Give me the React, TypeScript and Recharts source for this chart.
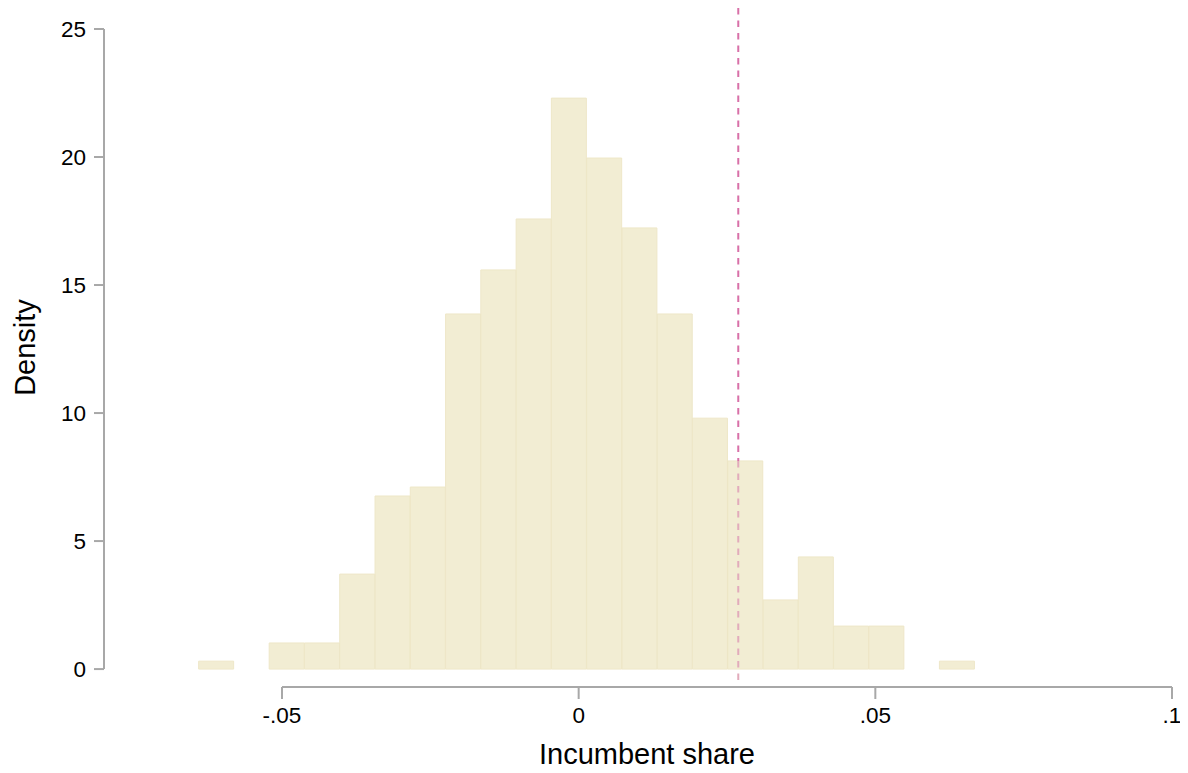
import { BarChart, Bar, XAxis, YAxis, ReferenceLine } from 'recharts';

// histogram bin centres (bin width ~ .00595)
const binCenters = [
  -0.06108, -0.05513, -0.04919, -0.04324, -0.0373, -0.03135, -0.02541, -0.01946,
  -0.01352, -0.00757, -0.00163, 0.00432, 0.01026, 0.01621, 0.02215, 0.0281,
  0.03404, 0.03999, 0.04593, 0.05188, 0.05782, 0.06377,
];
const densities = [
  0.31, 0, 1.02, 1.02, 3.71, 6.76, 7.11, 13.87,
  15.59, 17.58, 22.3, 19.96, 17.23, 13.87, 9.8, 8.13,
  2.7, 4.38, 1.68, 1.68, 0, 0.31,
];
const xTicks = [-0.05, 0, 0.05, 0.1];
const xTickLabels = ['-.05', '0', '.05', '.1'];
const yTicks = [0, 5, 10, 15, 20, 25];
const cutoff = 0.0269;

const X_DOMAIN: [number, number] = [-0.08, 0.1];
const Y_DOMAIN: [number, number] = [-0.7, 25.82];

const FONT = '"Liberation Sans", Arial, Helvetica, sans-serif';
const AXIS = '#a8a8a8';

const data = binCenters.map((x, i) => ({ x, density: densities[i] }));

// the cutoff line shows through the (translucent) bars: find the bar it crosses
const crossed = binCenters.reduce((best, c, i) =>
  Math.abs(c - cutoff) < Math.abs(binCenters[best] - cutoff) ? i : best, 0);
const barTop = densities[crossed];

export default function App() {
  return (
    <div style={{ fontFamily: FONT }}>
      <BarChart
        width={1180}
        height={765}
        data={data}
        margin={{ top: 0, right: 16, bottom: 0, left: 0 }}
        barCategoryGap={0}
        barGap={0}
      >
        <XAxis
          dataKey="x"
          type="number"
          domain={X_DOMAIN}
          ticks={xTicks}
          interval={0}
          allowDataOverflow
          tickFormatter={(v) => xTickLabels[xTicks.indexOf(v)] ?? String(v)}
          axisLine={false}
          tickLine={{ stroke: AXIS, strokeWidth: 2 }}
          tickSize={12}
          tickMargin={8}
          height={86}
          tick={{ fill: '#000', fontSize: 22.5, fontFamily: FONT }}
          label={{ value: 'Incumbent share', position: 'insideBottom', offset: 9, dx: 9, fill: '#000', fontSize: 29, fontFamily: FONT }}
        />
        <YAxis
          type="number"
          domain={Y_DOMAIN}
          ticks={yTicks}
          interval={0}
          allowDataOverflow
          axisLine={false}
          tickLine={{ stroke: AXIS, strokeWidth: 2 }}
          tickSize={10}
          tickMargin={8}
          width={96}
          tick={{ fill: '#000', fontSize: 22.5, fontFamily: FONT }}
          label={{ value: 'Density', angle: -90, position: 'center', dx: -31, fill: '#000', fontSize: 29, fontFamily: FONT }}
        />
        <Bar
          dataKey="density"
          fill="#e6dca8"
          fillOpacity={0.5}
          stroke="#eee7c8"
          strokeWidth={1}
          isAnimationActive={false}
        />
        <ReferenceLine segment={[{ x: cutoff, y: Y_DOMAIN[1] }, { x: cutoff, y: barTop }]} stroke="#d870a8" strokeWidth={2} strokeDasharray="6.5 6" />
        <ReferenceLine segment={[{ x: cutoff, y: barTop }, { x: cutoff, y: Y_DOMAIN[0] }]} stroke="#e2abbb" strokeWidth={2} strokeDasharray="6.5 6" />
        <ReferenceLine segment={[{ x: X_DOMAIN[0], y: 0 }, { x: X_DOMAIN[0], y: 25 }]} stroke={AXIS} strokeWidth={2} />
        <ReferenceLine segment={[{ x: -0.05, y: Y_DOMAIN[0] }, { x: 0.1, y: Y_DOMAIN[0] }]} stroke={AXIS} strokeWidth={2} />
      </BarChart>
    </div>
  );
}
